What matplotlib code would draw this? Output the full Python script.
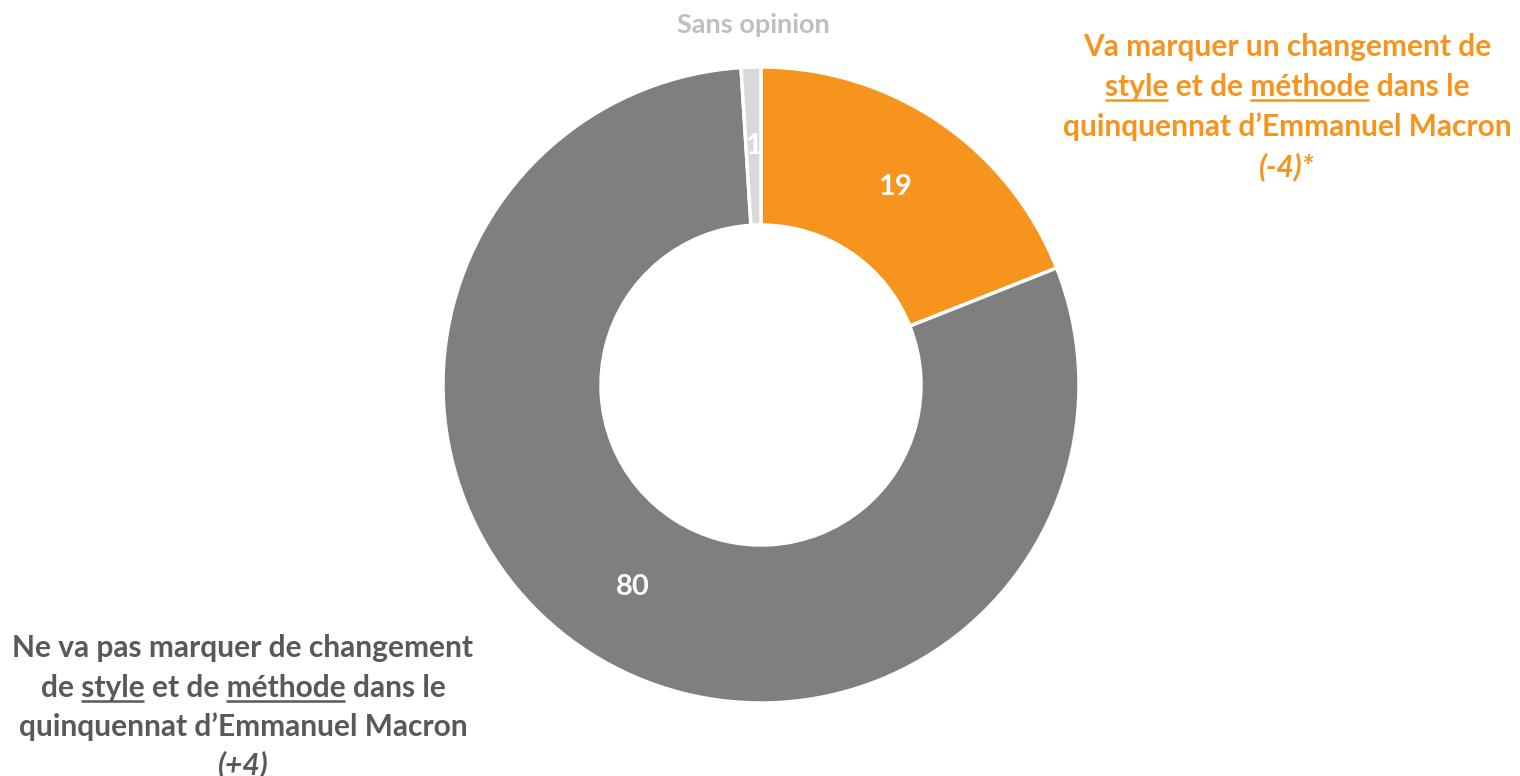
import matplotlib
matplotlib.use("Agg")
import matplotlib.pyplot as plt
import numpy as np

W, H = 1520, 776

categories = [
    "Va marquer un changement de style et de méthode",
    "Ne va pas marquer de changement de style et de méthode",
    "Sans opinion",
]
values = [19, 80, 1]
value_labels = ["19", "80", "1"]
evolutions = ["(-4)*", "(+4)", ""]

ORANGE = "#F7941D"
DARK = "#7F7F7F"
LIGHT = "#D9D9D9"
colors = [ORANGE, DARK, LIGHT]

FONT = "Lato"
WEIGHT = "bold"

fig = plt.figure(figsize=(W / 100, H / 100), dpi=100)
ax = fig.add_axes([0, 0, 1, 1])


def py(y):
    # pixel row (from top) -> data y
    return H - y


cx, cy, r_out, r_in = 761, 385, 318, 160
wedges, _ = ax.pie(values, colors=colors, startangle=90, counterclock=False,
                   center=(cx, py(cy)), radius=r_out, frame=True,
                   wedgeprops=dict(width=r_out - r_in, edgecolor="white", linewidth=2.5))
ax.set_xlim(0, W)
ax.set_ylim(0, H)
ax.set_aspect("equal")
ax.axis("off")

r_mid = (r_out + r_in) / 2
for w, lab in zip(wedges, value_labels):
    ang = np.deg2rad((w.theta1 + w.theta2) / 2)
    ax.text(cx + r_mid * np.cos(ang), py(cy) + r_mid * np.sin(ang), lab,
            ha="center", va="center", color="white", fontsize=21,
            fontweight=WEIGHT, family=FONT)

renderer = fig.canvas.get_renderer()


def line(x, y, s, color, size, underline=(), italic=False):
    t = ax.text(x, py(y), s, ha="center", va="baseline", color=color,
                fontsize=size, fontweight=WEIGHT, family=FONT,
                style="italic" if italic else "normal")
    bb = t.get_window_extent(renderer)
    for word in underline:
        i = s.index(word)
        pre = s[:i + len(word)]
        m1 = ax.text(0, 0, pre, fontsize=size, fontweight=WEIGHT, family=FONT)
        m2 = ax.text(0, 0, word, fontsize=size, fontweight=WEIGHT, family=FONT)
        w1 = m1.get_window_extent(renderer).width
        w2 = m2.get_window_extent(renderer).width
        m1.remove()
        m2.remove()
        x1 = bb.x0 + w1
        x0 = x1 - w2
        ax.plot([x0, x1], [py(y) - 4, py(y) - 4], color=color, lw=1.8,
                solid_capstyle="butt")


SIZE = 21.5
# orange label (top right)
ox = 1287
line(ox, 56, "Va marquer un changement de", ORANGE, SIZE)
line(ox, 96, "style et de méthode dans le", ORANGE, SIZE, underline=("style", "méthode"))
line(ox, 136, "quinquennat d\u2019Emmanuel Macron", ORANGE, SIZE)
line(ox, 176, evolutions[0], ORANGE, SIZE, italic=True)

# grey label (bottom left)
GREY_TXT = "#595959"
gx = 243
line(gx, 657, "Ne va pas marquer de changement", GREY_TXT, SIZE)
line(gx, 697, "de style et de méthode dans le", GREY_TXT, SIZE, underline=("style", "méthode"))
line(gx, 736, "quinquennat d\u2019Emmanuel Macron", GREY_TXT, SIZE)
line(gx, 774, evolutions[1], GREY_TXT, SIZE, italic=True)

# sans opinion
line(753, 33, categories[2], "#BFBFBF", 19.5)

fig.savefig("out.png", dpi=100, facecolor="white")
